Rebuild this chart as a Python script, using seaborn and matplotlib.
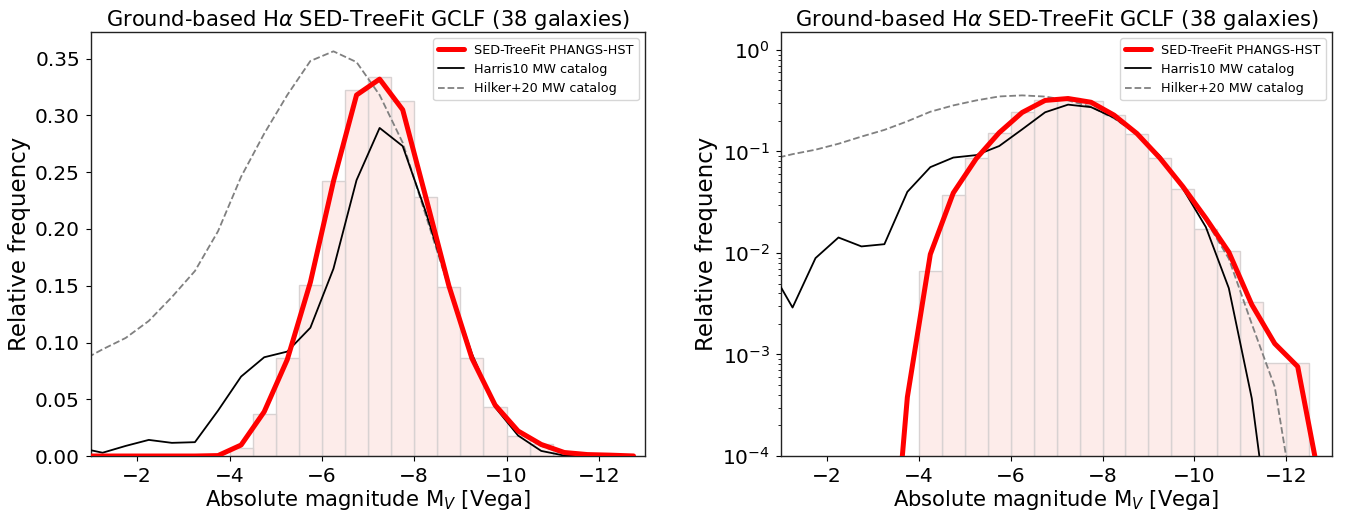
import numpy as np
import pandas as pd
import matplotlib
matplotlib.use("Agg")
import matplotlib.pyplot as plt
import seaborn as sns

# ---- data ----
bin_edges = [-4.0, -4.5, -5.0, -5.5, -6.0, -6.5, -7.0, -7.5, -8.0, -8.5, -9.0,
             -9.5, -10.0, -10.5, -11.0, -11.5, -12.0, -12.5]
bar_heights = [0.00665, 0.0369, 0.0867, 0.151, 0.242, 0.322, 0.334, 0.313, 0.228,
               0.149, 0.086, 0.043, 0.0173, 0.0104, 0.0033, 0.00083, 0.00083]

mag_grid = [-0.75, -1.25, -1.75, -2.25, -2.75, -3.25, -3.75, -4.25, -4.75, -5.25,
            -5.75, -6.25, -6.75, -7.25, -7.75, -8.25, -8.75, -9.25, -9.75,
            -10.25, -10.75, -11.25, -11.75, -12.25, -12.75]
sed_treefit = [1e-9, 1e-9, 1e-9, 1e-9, 1e-9, 8.5e-7, 3.8e-4, 0.0097, 0.039, 0.085,
               0.153, 0.242, 0.318, 0.332, 0.305, 0.228, 0.15, 0.086, 0.045,
               0.022, 0.0102, 0.0031, 0.00128, 0.00076, 5e-5]
harris10 = [0.0072, 0.0029, 0.0089, 0.0142, 0.0116, 0.0122, 0.040, 0.070, 0.087, 0.092,
            0.113, 0.165, 0.243, 0.289, 0.273, 0.215, 0.15, 0.09, 0.043,
            0.018, 0.0045, 0.00037, 7e-6, 1e-9, 1e-9]
hilker20 = [0.083, 0.094, 0.104, 0.119, 0.140, 0.163, 0.198, 0.246, 0.284, 0.318,
            0.348, 0.3565, 0.347, 0.318, 0.276, 0.212, 0.148, 0.088, 0.044,
            0.021, 0.0088, 0.0020, 0.00048, 2e-5, 1e-9]

title = r"Ground-based H$\alpha$ SED-TreeFit GCLF (38 galaxies)"
xlabel = r"Absolute magnitude M$_V$ [Vega]"
ylabel = "Relative frequency"
labels = ["SED-TreeFit PHANGS-HST", "Harris10 MW catalog", "Hilker+20 MW catalog"]

# ---- build tables ----
edges_sorted = sorted(bin_edges)
centers = [bin_edges[i] - 0.25 for i in range(len(bar_heights))]
hist_df = pd.DataFrame({"mag": centers, "w": bar_heights})
lines_df = pd.DataFrame({"mag": mag_grid, "sed": sed_treefit,
                         "harris": harris10, "hilker": hilker20})

sns.set_theme(style="ticks")
plt.rcParams["font.family"] = ["DejaVu Sans"]
plt.rcParams["mathtext.fontset"] = "dejavusans"
plt.rcParams.update({
    "axes.edgecolor": "#222222",
    "text.color": "black",
    "axes.labelcolor": "black",
    "xtick.color": "black",
    "ytick.color": "black",
    "xtick.major.size": 3.5,
    "ytick.major.size": 3.5,
    "xtick.minor.size": 2.0,
    "ytick.minor.size": 2.0,
    "xtick.major.width": 0.8,
    "ytick.major.width": 0.8,
    "ytick.minor.width": 0.6,
    "axes.linewidth": 1.0,
})

fig = plt.figure(figsize=(13.49, 5.14), dpi=100)
ax1 = fig.add_axes([0.0675, 0.1128, 0.4107, 0.8249])
ax2 = fig.add_axes([0.5790, 0.1128, 0.4085, 0.8249])

for ax, logy in [(ax1, False), (ax2, True)]:
    if logy:
        ax.set_yscale("log")
    sns.histplot(data=hist_df, x="mag", weights="w", bins=edges_sorted,
                 stat="count", ax=ax, color="#fdecea", edgecolor="#d8d2d2",
                 linewidth=1.0, alpha=1.0, zorder=1)
    sns.lineplot(data=lines_df, x="mag", y="sed", ax=ax, color="red", lw=3.6,
                 label=labels[0], sort=False, estimator=None, zorder=4)
    sns.lineplot(data=lines_df, x="mag", y="harris", ax=ax, color="black", lw=1.3,
                 label=labels[1], sort=False, estimator=None, zorder=3)
    sns.lineplot(data=lines_df, x="mag", y="hilker", ax=ax, color="gray", lw=1.3,
                 linestyle="--", label=labels[2], sort=False, estimator=None, zorder=2)
    ax.set_xlim(-1, -13)
    ax.set_xticks([-2, -4, -6, -8, -10, -12])
    if logy:
        ax.set_ylim(1e-4, 1.5)
    else:
        ax.set_ylim(0, 0.3735)
        ax.set_yticks([0.0, 0.05, 0.10, 0.15, 0.20, 0.25, 0.30, 0.35])
        ax.yaxis.set_major_formatter(matplotlib.ticker.FormatStrFormatter("%.2f"))
    ax.set_title(title, fontsize=15.2, pad=4)
    ax.set_xlabel(xlabel, fontsize=15.2, labelpad=1)
    ax.set_ylabel(ylabel, fontsize=16.5, labelpad=3)
    ax.tick_params(axis="both", which="major", labelsize=14.5, direction="out", pad=4.5)
    ax.grid(False)
    leg = ax.legend(loc="upper right", fontsize=9.2, frameon=True)
    leg.get_frame().set_edgecolor("#cccccc")

fig.savefig("out.png", dpi=100)
